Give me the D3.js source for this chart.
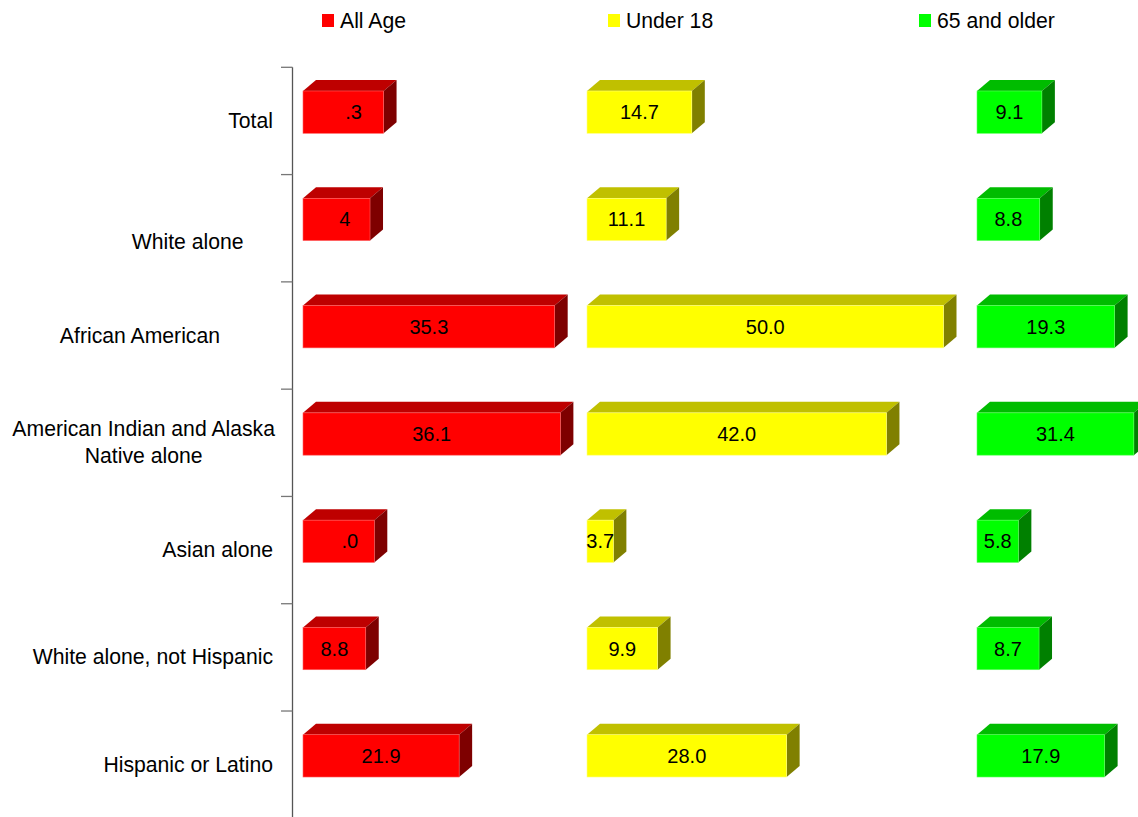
<!DOCTYPE html>
<html>
<head>
<meta charset="utf-8">
<script src="https://cdn.jsdelivr.net/npm/d3@7/dist/d3.min.js"></script>
<style>
  html, body { margin: 0; padding: 0; background: #fff; }
  svg { display: block; }
  text { font-family: "Liberation Sans", Arial, sans-serif; white-space: pre; }
</style>
</head>
<body>
<svg id="chart" width="1138" height="817"></svg>
<script>
// ---------- data ----------
const categories = ["Total", "White alone", "African American",
  "American Indian and Alaska Native alone", "Asian alone",
  "White alone, not Hispanic", "Hispanic or Latino"];
const categoryLabelLines = [
  ["Total"],
  ["", "White alone     "],
  ["African American         "],
  ["American Indian and Alaska", "Native alone"],
  ["Asian alone"],
  ["White alone, not Hispanic"],
  ["Hispanic or Latino"]
];
const seriesNames = ["All Age", "Under 18", "65 and older"];
const allAge   = [11.3, 9.4, 35.3, 36.1, 10.0, 8.8, 21.9];
const under18  = [14.7, 11.1, 50.0, 42.0, 3.7, 9.9, 28.0];
const age65    = [9.1, 8.8, 19.3, 31.4, 5.8, 8.7, 17.9];
// labels as printed on the bars (some are cut short in the original)
const allAgeLabels  = [".3", "4", "35.3", "36.1", ".0", "8.8", "21.9"];
const under18Labels = ["14.7", "11.1", "50.0", "42.0", "3.7", "9.9", "28.0"];
const age65Labels   = ["9.1", "8.8", "19.3", "31.4", "5.8", "8.7", "17.9"];

// ---------- layout ----------
const svg = d3.select("#chart");
const fmt = d3.format(".1f");
const pxPerUnit = 7.13;
const axisX = 292.5;
const labelFont = 21.2;
const panelStarts = [303, 587, 977];
const panelMax = [39.8, 54.7, 22.0];
const colors = [
  { front: "#FF0000", top: "#BE0000", side: "#7E0000", edge: "#FF6060" },
  { front: "#FFFF00", top: "#C0C000", side: "#808000", edge: "#FFFF80" },
  { front: "#00FF00", top: "#00BC00", side: "#008000", edge: "#60FF60" }
];
const seriesData = [allAge, under18, age65];
const seriesLabels = [allAgeLabels, under18Labels, age65Labels];

const y = d3.scaleBand().domain(categories).range([67.3, 818.3]).padding(0);
const xScales = panelStarts.map((s, i) =>
  d3.scaleLinear().domain([0, panelMax[i]]).range([s, s + panelMax[i] * pxPerUnit]).clamp(true));

const depthX = 13, depthY = 11;
const frontOffset = 23.7, frontH = 42.3;

// ---------- axis ----------
const axisG = svg.append("g");
axisG.append("line")
  .attr("x1", axisX).attr("x2", axisX)
  .attr("y1", y.range()[0]).attr("y2", y.range()[1])
  .attr("stroke", "#555").attr("stroke-width", 1.3);
axisG.selectAll("line.tick").data(categories).enter().append("line")
  .attr("class", "tick")
  .attr("x1", axisX - 11.5).attr("x2", axisX)
  .attr("y1", d => y(d)).attr("y2", d => y(d))
  .attr("stroke", "#777").attr("stroke-width", 1.3);

// category labels
const catG = svg.append("g");
const labelRight = 273;
categories.forEach((c, i) => {
  const lines = categoryLabelLines[i];
  const cy = y(c) + y.bandwidth() / 2;
  const lh = 27;
  if (lines.length === 1 || lines[0] === "") {
    const t = catG.append("text")
      .attr("text-anchor", "end")
      .attr("font-size", labelFont)
      .attr("fill", "#000");
    lines.forEach((ln, j) => {
      t.append("tspan")
        .attr("x", labelRight)
        .attr("y", cy + 7 + (j - (lines.length - 1) / 2) * lh)
        .text(ln);
    });
  } else {
    // multi-line block: right-aligned block, lines centred within it
    const widths = lines.map(ln => {
      const tmp = catG.append("text").attr("font-size", labelFont).text(ln);
      const w = tmp.node().getComputedTextLength();
      tmp.remove();
      return w;
    });
    const cx = labelRight + 2 - d3.max(widths) / 2;
    const t = catG.append("text")
      .attr("text-anchor", "middle")
      .attr("font-size", labelFont)
      .attr("fill", "#000");
    lines.forEach((ln, j) => {
      t.append("tspan")
        .attr("x", cx)
        .attr("y", cy + 7 + (j - (lines.length - 1) / 2) * lh)
        .text(ln);
    });
  }
});

// ---------- bars ----------
seriesData.forEach((vals, si) => {
  const x = xScales[si];
  const col = colors[si];
  const g = svg.append("g");
  const x0 = panelStarts[si];
  vals.forEach((v, i) => {
    const x1 = x(v);
    const yt = y(categories[i]) + frontOffset;
    const yb = yt + frontH;
    // top face
    g.append("polygon")
      .attr("points", [[x0, yt], [x0 + depthX, yt - depthY], [x1 + depthX, yt - depthY], [x1, yt]].join(" "))
      .attr("fill", col.top);
    // side face
    g.append("polygon")
      .attr("points", [[x1, yt], [x1 + depthX, yt - depthY], [x1 + depthX, yb - depthY], [x1, yb]].join(" "))
      .attr("fill", col.side);
    // front face
    g.append("rect")
      .attr("x", x0).attr("y", yt)
      .attr("width", x1 - x0).attr("height", frontH)
      .attr("fill", col.front)
      .attr("stroke", col.edge).attr("stroke-width", 0.6);
    // value label: visible tail of the formatted value, positioned where the full value would end
    const full = fmt(v);
    const label = seriesLabels[si][i];
    const tmp = g.append("text").attr("font-size", 20).text(full);
    const fullW = tmp.node().getComputedTextLength();
    tmp.remove();
    g.append("text")
      .attr("x", (x0 + x1) / 2 + fullW / 2)
      .attr("y", (yt + yb) / 2 + 7)
      .attr("text-anchor", "end")
      .attr("font-size", 20)
      .attr("fill", "#000")
      .text(label);
  });
});

// ---------- legend ----------
const legendX = [322, 608, 919];
const legend = svg.append("g");
seriesNames.forEach((n, i) => {
  legend.append("rect")
    .attr("x", legendX[i]).attr("y", 14)
    .attr("width", 12).attr("height", 13)
    .attr("fill", colors[i].front);
  legend.append("text")
    .attr("x", legendX[i] + 18).attr("y", 27.5)
    .attr("font-size", labelFont)
    .attr("fill", "#000")
    .text(n);
});
</script>
</body>
</html>
